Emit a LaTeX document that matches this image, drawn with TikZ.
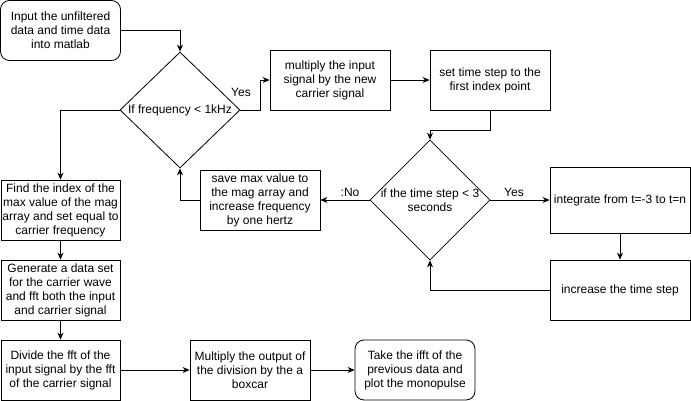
\documentclass[tikz,border=0pt]{standalone}
\usepackage{fontspec}
\setmainfont{Liberation Sans}
\usetikzlibrary{shapes.geometric,arrows.meta}
\begin{document}
\begin{tikzpicture}[x=1pt,y=-1pt,
  every node/.style={font=\fontsize{12}{14}\selectfont, inner sep=0pt, align=center},
  box/.style={draw, line width=0.8pt, minimum width=#1, minimum height=60pt},
  box/.default=120pt,
  rbox/.style={box, rounded corners=9pt},
  dia/.style={draw, line width=0.8pt, diamond, minimum width=120pt, minimum height=#1},
  conn/.style={draw, line width=0.8pt, -{Stealth[length=7pt,width=6pt]}},
  lbl/.style={font=\fontsize{12}{14}\selectfont}
]
\useasboundingbox (0,0) rectangle (691,401);
\fill[white] (0,0) rectangle (691,401);

\node[rbox=119pt] (start) at (60.5,30.5) {Input the unfiltered\\data and time data\\into matlab};
\node[dia=116pt] (d1) at (180,110) {};
\node (d1t) at (180,110) {If frequency < 1kHz};
\node[box] (m1) at (330,80) {multiply the input\\signal by the new\\carrier signal};
\node[box] (s1) at (490,80) {set time step to the\\first index point};
\node[dia=120pt] (d2) at (430,200) {};
\node (d2t) at (430,200) {if the time step < 3\\seconds};
\node[box=140pt, minimum height=66pt] (integ) at (620,200) {integrate from t=-3 to t=n};
\node[box=140pt] (inc) at (620,290) {increase the time step};
\node[box] (save) at (260,200) {save max value to\\the mag array and\\increase frequency\\by one hertz};
\node[box=119pt] (find) at (60.5,210) {Find the index of the\\max value of the mag\\array and set equal to\\carrier frequency};
\node[box=119pt] (gen) at (60.5,290) {Generate a data set\\for the carrier wave\\and fft both the input\\and carrier signal};
\node[box=119pt] (div) at (60.5,370) {Divide the fft of the\\input signal by the fft\\of the carrier signal};
\node[box] (mul) at (250,370) {Multiply the output of\\the division by the a\\boxcar};
\node[rbox] (fin) at (415,370) {Take the ifft of the\\previous data and\\plot the monopulse};

\coordinate (c1) at (180,30.5);
\draw[conn] (start.east) -- (c1) -- (d1.north);
\draw[conn] (d1.east) -- (260,110) -- (260,80) -- (m1.west);
\node[lbl] (yes1) at (241,92) {Yes};
\draw[conn] (m1.east) -- (s1.west);
\draw[conn] (s1.south) -- (490,130) -- (430,130) -- (d2.north);
\draw[conn] (d2.east) -- (integ.west);
\node[lbl] (yes2) at (514,192) {Yes};
\draw[conn] (integ.south) -- (inc.north);
\draw[conn] (inc.west) -- (430,290) -- (d2.south);
\draw[conn] (d2.west) -- (save.east);
\node[lbl] (no) at (350,192) {:No};
\draw[conn] (save.west) -- (180,200) -- (d1.south);
\draw[conn] (d1.west) -- (60.5,110) -- (find.north);
\draw[conn] (find.south) -- (gen.north);
\draw[conn] (gen.south) -- (div.north);
\draw[conn] (div.east) -- (mul.west);
\draw[conn] (mul.east) -- (fin.west);
\end{tikzpicture}
\end{document}
